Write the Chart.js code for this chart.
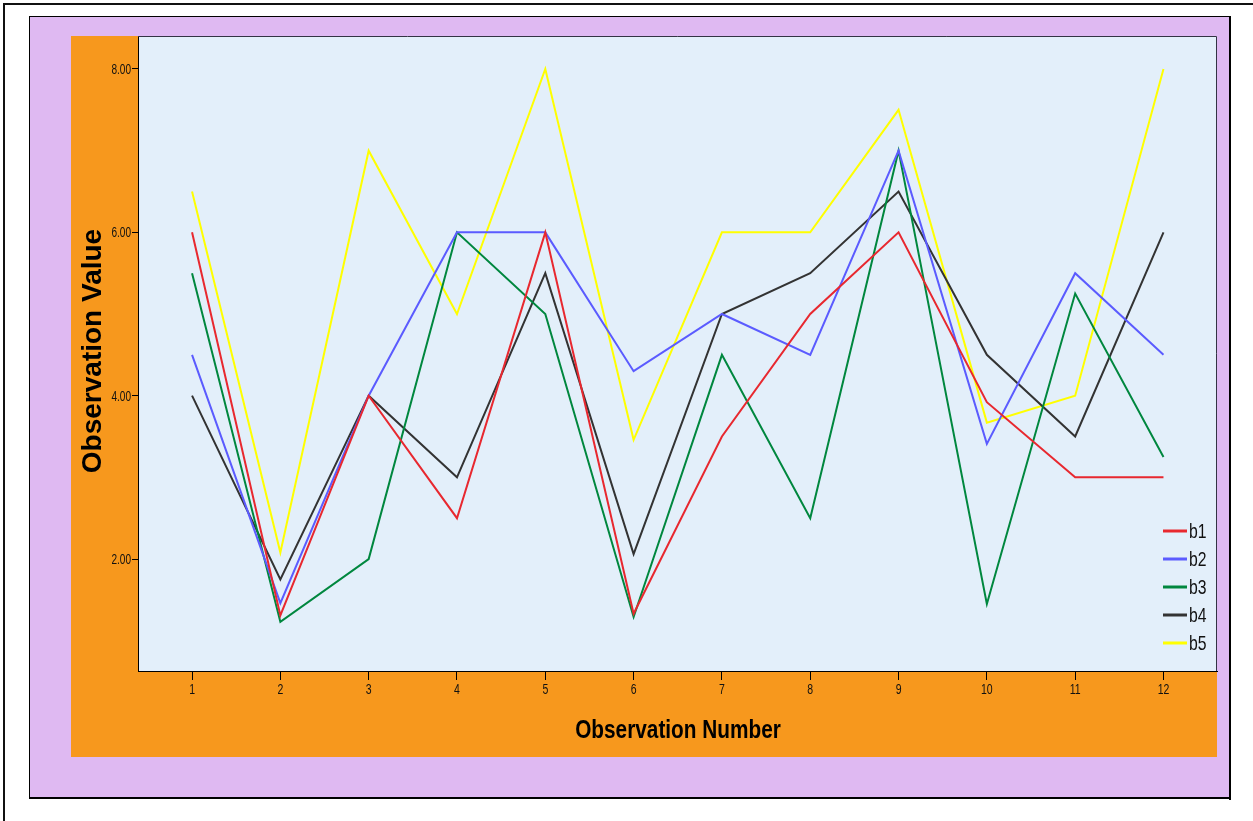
<!DOCTYPE html>
<html>
<head>
<meta charset="utf-8">
<script src="https://cdn.jsdelivr.net/npm/chart.js@4/dist/chart.umd.min.js"></script>
<style>
html,body{margin:0;padding:0;background:#fff;}
canvas{display:block;}
</style>
</head>
<body>
<canvas id="c" width="1253" height="821"></canvas>
<script>
const observations = [1,2,3,4,5,6,7,8,9,10,11,12];
const b1 = [6.0, 1.31, 4.0, 2.5, 6.0, 1.33, 3.5, 5.0, 6.0, 3.92, 3.0, 3.0];
const b2 = [4.5, 1.46, 4.0, 6.0, 6.0, 4.3, 5.0, 4.5, 7.0, 3.41, 5.5, 4.5];
const b3 = [5.5, 1.23, 2.0, 6.0, 5.0, 1.29, 4.5, 2.5, 7.0, 1.45, 5.25, 3.25];
const b4 = [4.0, 1.75, 4.0, 3.0, 5.5, 2.06, 5.0, 5.5, 6.5, 4.5, 3.5, 6.0];
const b5 = [6.5, 2.08, 7.0, 5.0, 8.0, 3.46, 6.0, 6.0, 7.5, 3.67, 4.0, 8.0];
const seriesNames = ['b1','b2','b3','b4','b5'];
const seriesColors = ['#E8282F','#5B5BFF','#00873E','#333333','#FFFF00'];
const yTickValues = [2, 4, 6, 8];
const xTickValues = observations;
const xTitle = 'Observation Number';
const yTitle = 'Observation Value';

const allSeries = [b1,b2,b3,b4,b5];
const datasets = allSeries.map((vals, i) => ({
  label: seriesNames[i],
  data: observations.map((x, j) => ({x: x, y: vals[j]})),
  borderColor: seriesColors[i],
  backgroundColor: seriesColors[i],
  borderWidth: 2,
  pointRadius: 0,
  tension: 0,
  fill: false
}));

const FONT = '"Liberation Sans", Arial, sans-serif';

function narrowText(ctx, text, x, y, font, sx, align, baseline) {
  ctx.save();
  ctx.translate(x, y);
  ctx.scale(sx, 1);
  ctx.font = font;
  ctx.textAlign = align;
  ctx.textBaseline = baseline;
  ctx.fillText(text, 0, 0);
  ctx.restore();
}

const framePlugin = {
  id: 'frame',
  beforeDraw(chart) {
    const ctx = chart.ctx;
    const ca = chart.chartArea;
    ctx.save();
    ctx.fillStyle = '#ffffff';
    ctx.fillRect(0, 0, chart.width, chart.height);
    ctx.strokeStyle = '#111';
    ctx.lineWidth = 2;
    ctx.strokeRect(4, 4, 1400, 1000);
    ctx.fillStyle = '#DFB9F2';
    ctx.fillRect(29, 16, 1201, 782);
    ctx.strokeStyle = '#000';
    ctx.lineWidth = 1;
    ctx.strokeRect(29.5, 16.5, 1200, 781);
    ctx.fillStyle = '#000';
    ctx.fillRect(1229, 16, 2, 784);
    ctx.fillRect(29, 797, 1202, 2);
    ctx.fillStyle = '#F7981D';
    ctx.fillRect(71, 36, 1146, 721);
    ctx.fillStyle = '#E3EFFA';
    ctx.fillRect(ca.left, ca.top, ca.right - ca.left, ca.bottom - ca.top);
    ctx.restore();
  },
  afterDraw(chart) {
    const ctx = chart.ctx;
    const ca = chart.chartArea;
    const xs = chart.scales.x, ys = chart.scales.y;
    ctx.save();
    ctx.strokeStyle = '#333344';
    ctx.lineWidth = 1;
    ctx.beginPath();
    ctx.moveTo(ca.left, ca.top + 0.5);
    ctx.lineTo(ca.right - 0.5, ca.top + 0.5);
    ctx.lineTo(ca.right - 0.5, ca.bottom);
    ctx.stroke();

    // tick labels (narrow)
    ctx.fillStyle = '#111';
    xTickValues.forEach(v => {
      narrowText(ctx, String(v), xs.getPixelForValue(v), ca.bottom + 19, '14px ' + FONT, 0.75, 'center', 'middle');
    });
    yTickValues.forEach(v => {
      narrowText(ctx, v.toFixed(2), ca.left - 7, ys.getPixelForValue(v) + 1, '14px ' + FONT, 0.72, 'right', 'middle');
    });

    // axis titles
    ctx.fillStyle = '#000';
    narrowText(ctx, xTitle, 678, 731, 'bold 26px ' + FONT, 0.8, 'center', 'middle');
    ctx.save();
    ctx.translate(93, 351);
    ctx.rotate(-Math.PI / 2);
    ctx.font = 'bold 28px ' + FONT;
    ctx.textAlign = 'center';
    ctx.textBaseline = 'middle';
    ctx.fillText(yTitle, 0, 0);
    ctx.restore();

    // legend inside plot
    const x0 = 1163, rowY0 = 531, rowStep = 28;
    chart.data.datasets.forEach((ds, i) => {
      const y = rowY0 + i * rowStep;
      ctx.strokeStyle = ds.borderColor;
      ctx.lineWidth = 3;
      ctx.beginPath();
      ctx.moveTo(x0, y);
      ctx.lineTo(x0 + 24, y);
      ctx.stroke();
      ctx.fillStyle = '#111';
      narrowText(ctx, ds.label, x0 + 26, y + 1, '21px ' + FONT, 0.75, 'left', 'middle');
    });
    ctx.restore();
  }
};

new Chart(document.getElementById('c'), {
  type: 'line',
  data: { datasets: datasets },
  plugins: [framePlugin],
  options: {
    responsive: false,
    animation: false,
    devicePixelRatio: 1,
    layout: { padding: { left: 71, top: 36, right: 36, bottom: 64 } },
    plugins: { legend: { display: false }, tooltip: { enabled: false } },
    scales: {
      x: {
        type: 'linear',
        min: 0.388,
        max: 12.606,
        afterBuildTicks(scale) { scale.ticks = xTickValues.map(v => ({value: v})); },
        afterFit(scale) { scale.height = 86; },
        grid: { drawOnChartArea: false, drawTicks: true, tickLength: 9, tickColor: '#000', lineWidth: 1 },
        border: { display: true, color: '#000', width: 1 },
        ticks: { display: false, autoSkip: false },
        title: { display: false, text: xTitle }
      },
      y: {
        type: 'linear',
        min: 0.629,
        max: 8.404,
        afterBuildTicks(scale) { scale.ticks = yTickValues.map(v => ({value: v})); },
        afterFit(scale) { scale.width = 67; },
        grid: { drawOnChartArea: false, drawTicks: true, tickLength: 6, tickColor: '#000', lineWidth: 1 },
        border: { display: true, color: '#000', width: 1 },
        ticks: { display: false },
        title: { display: false, text: yTitle }
      }
    }
  }
});
</script>
</body>
</html>
